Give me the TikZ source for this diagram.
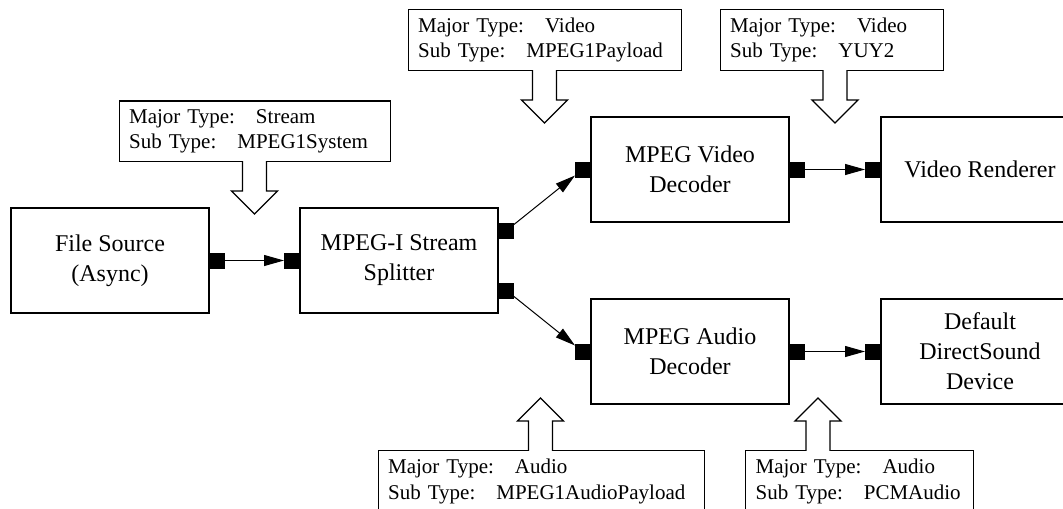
\documentclass[tikz,border=0pt]{standalone}
\usepackage{fontspec}
\setmainfont{Liberation Serif}
\usetikzlibrary{positioning, arrows.meta, calc}

\begin{document}
\begin{tikzpicture}[
    font=\fontsize{12}{15}\selectfont,
    >={Triangle[length=10pt, width=5.5pt]},
    filterbox/.style={
        rectangle, draw=black, line width=1pt,
        minimum width=99pt, minimum height=52.5pt,
        align=center, inner sep=0pt
    },
    portbox/.style={
        rectangle, fill=black, draw=none,
        minimum width=7.5pt, minimum height=8pt,
        inner sep=0pt, outer sep=0pt
    },
    mtype/.style={
        rectangle, draw=black, line width=0.65pt, fill=white,
        align=left, inner xsep=5pt, inner ysep=4pt,
        font=\fontsize{10.5}{12.9}\selectfont
    },
    link/.style={->, line width=0.5pt},
    fatarrow/.style={draw=black, fill=white, line width=0.65pt, line join=miter},
]

% ---------- Page frame ----------
\useasboundingbox (0,0) rectangle (531.5pt,-254pt);
\clip (0,0) rectangle (531.5pt,-254pt);

% ---------- Filters ----------
\node[filterbox, anchor=north west] (src) at (5pt,-103.5pt) {File Source\\(Async)};
\node[filterbox, right=44.5pt of src] (split) {MPEG-I Stream\\Splitter};
\node[filterbox, anchor=west] (vdec) at ([xshift=45.5pt, yshift=45.5pt]split.east) {MPEG Video\\Decoder};
\node[filterbox, anchor=west] (adec) at ([xshift=45.5pt, yshift=-45.5pt]split.east) {MPEG Audio\\Decoder};
\node[filterbox, right=45pt of vdec] (vrend) {Video Renderer};
\node[filterbox, right=45pt of adec] (dsound) {Default\\DirectSound\\Device};

% ---------- Pins ----------
\node[portbox, anchor=west] (src-out) at (src.east) {};
\node[portbox, anchor=east] (split-in) at (split.west) {};
\node[portbox, anchor=west] (split-out1) at ([yshift=15pt]split.east) {};
\node[portbox, anchor=west] (split-out2) at ([yshift=-15pt]split.east) {};
\node[portbox, anchor=east] (vdec-in) at (vdec.west) {};
\node[portbox, anchor=west] (vdec-out) at (vdec.east) {};
\node[portbox, anchor=east] (vrend-in) at (vrend.west) {};
\node[portbox, anchor=east] (adec-in) at (adec.west) {};
\node[portbox, anchor=west] (adec-out) at (adec.east) {};
\node[portbox, anchor=east] (dsound-in) at (dsound.west) {};

% ---------- Connections ----------
\draw[link] (src-out) -- (split-in);
\draw[link] (split-out1) -- (vdec-in);
\draw[link] (split-out2) -- (adec-in);
\draw[link] (vdec-out) -- (vrend-in);
\draw[link] (adec-out) -- (dsound-in);

% ---------- Media types ----------
\coordinate (tStream) at ($(src.north east)!.5!(split.north west)+(0,-3.5pt)$);
\coordinate (tVpay) at ($(split.east |- vdec.north)!.5!(vdec.north west)+(0,-3.5pt)$);
\coordinate (tYuy) at ($(vdec.north east)!.5!(vrend.north west)+(0,-3.5pt)$);
\coordinate (tApay) at ($(split.east |- adec.south)!.5!(adec.south west)+(-2pt,3.5pt)$);
\coordinate (tPcm) at ($(adec.south east)!.5!(dsound.south west)+(-8.5pt,3.5pt)$);

\node[mtype, text width=125.5pt, anchor=south west] (lstream) at ([xshift=-68pt, yshift=26pt]tStream)
    {Major Type:\quad Stream\\Sub Type:\quad MPEG1System};
\node[mtype, text width=126.5pt, anchor=south west] (lvpay) at ([xshift=-68.5pt, yshift=26pt]tVpay)
    {Major Type:\quad Video\\Sub Type:\quad MPEG1Payload};
\node[mtype, text width=101.5pt, anchor=south west] (lyuy) at ([xshift=-57.75pt, yshift=26pt]tYuy)
    {Major Type:\quad Video\\Sub Type:\quad YUY2};
\node[mtype, text width=153pt, anchor=north west] (lapay) at ([xshift=-81.5pt, yshift=-26pt]tApay)
    {Major Type:\quad Audio\\Sub Type:\quad MPEG1AudioPayload};
\node[mtype, text width=104pt, anchor=north west] (lpcm) at ([xshift=-36.5pt, yshift=-26pt]tPcm)
    {Major Type:\quad Audio\\Sub Type:\quad PCMAudio};

% hollow arrows from the type boxes
\foreach \t/\l in {tStream/lstream, tVpay/lvpay, tYuy/lyuy}
    \filldraw[fatarrow] ($(\t |- \l.south)+(-6pt,0.4pt)$) -- ++(0,-14.9pt) -- ++(-5.5pt,0)
        -- (\t) -- ++(11.5pt,11.5pt) -- ++(-5.5pt,0) -- ++(0,14.9pt);
\foreach \t/\l in {tApay/lapay, tPcm/lpcm}
    \filldraw[fatarrow] ($(\t |- \l.north)+(-6pt,-0.4pt)$) -- ++(0,14.9pt) -- ++(-5.5pt,0)
        -- (\t) -- ++(11.5pt,-11.5pt) -- ++(-5.5pt,0) -- ++(0,-14.9pt);

\end{tikzpicture}
\end{document}
